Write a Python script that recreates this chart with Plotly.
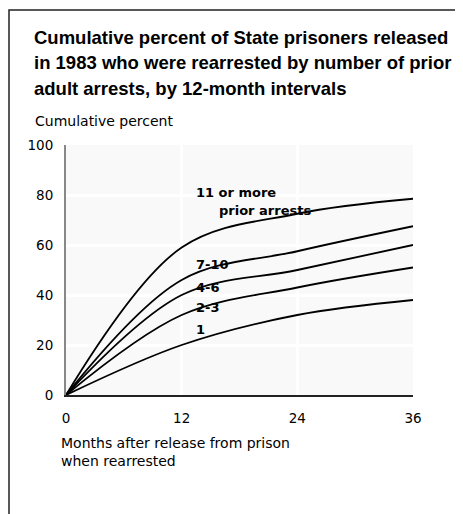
import plotly.graph_objects as go

months = [0, 12, 24, 36]
series_names = ["1", "2-3", "4-6", "7-10", "11 or more"]
s_1 = [0, 20, 32, 38]
s_2_3 = [0, 32, 43, 51]
s_4_6 = [0, 40, 50, 60]
s_7_10 = [0, 46, 57.5, 67.5]
s_11_plus = [0, 59, 72.5, 78.5]
x_ticks = [0, 12, 24, 36]
y_ticks = [0, 20, 40, 60, 80, 100]

OFF = 8  # page body margin
W, H = 463 - OFF, 514 - OFF
L, R, T, B = 66 - OFF, 463 - 413, 145 - OFF, 514 - 395
pw, ph = W - L - R, H - T - B


def px_x(sx):
    return (sx - OFF - L) / pw


def px_y(sy):
    return (H - B - (sy - OFF)) / ph


fig = go.Figure()
for vals in [s_1, s_2_3, s_4_6, s_7_10, s_11_plus]:
    fig.add_trace(go.Scatter(x=months, y=vals, mode="lines",
                             line=dict(color="black", width=1.8, shape="spline", smoothing=1.0),
                             hoverinfo="skip", showlegend=False))

lab_font = dict(family="DejaVu Sans", size=13, color="black")
labels = [
    ("<b>11 or more</b>", 194, 192),
    ("<b>prior arrests</b>", 217, 210),
    ("<b>7-10</b>", 194, 264),
    ("<b>4-6</b>", 194, 287),
    ("<b>2-3</b>", 194, 307),
    ("<b>1</b>", 194, 329),
]
annots = []
for txt, xp, yp in labels:
    annots.append(dict(text=txt, xref="paper", yref="paper", x=px_x(xp), y=px_y(yp),
                       xanchor="left", yanchor="middle", showarrow=False, font=lab_font))

title_lines = [
    ("Cumulative percent of State prisoners released", 37),
    ("in 1983 who were rearrested by number of prior", 63),
    ("adult arrests, by 12-month intervals", 88),
]
for txt, yp in title_lines:
    annots.append(dict(text="<b>" + txt + "</b>", xref="paper", yref="paper",
                       x=px_x(32), y=px_y(yp), xanchor="left", yanchor="middle",
                       showarrow=False, font=dict(family="Liberation Sans", size=18.5, color="black")))

annots.append(dict(text="Cumulative percent", xref="paper", yref="paper",
                   x=px_x(33), y=px_y(121), xanchor="left", yanchor="middle",
                   showarrow=False, font=dict(family="DejaVu Sans", size=14, color="black")))
annots.append(dict(text="Months after release from prison<br>when rearrested", xref="paper", yref="paper",
                   x=px_x(59), y=px_y(433), xanchor="left", yanchor="top", align="left",
                   showarrow=False, font=dict(family="DejaVu Sans", size=14, color="black")))

fig.update_layout(
    width=W, height=H,
    margin=dict(l=L, r=R, t=T, b=B),
    paper_bgcolor="white",
    plot_bgcolor="#f9f9f9",
    annotations=annots,
    shapes=[dict(type="rect", xref="paper", yref="paper",
                 x0=px_x(9), y0=px_y(540), x1=px_x(490), y1=px_y(10),
                 line=dict(color="#222222", width=1.5), layer="above")],
)
fig.update_xaxes(range=[0, 36], tickvals=x_ticks, showgrid=True, gridcolor="white", gridwidth=3,
                 zeroline=False, showline=True, linecolor="#222222", linewidth=1.5,
                 ticks="outside", ticklen=10, tickcolor="rgba(0,0,0,0)",
                 tickfont=dict(family="DejaVu Sans", size=13.5, color="black"), fixedrange=True)
fig.update_yaxes(range=[0, 100], tickvals=y_ticks, showgrid=True, gridcolor="white", gridwidth=3,
                 zeroline=False, showline=True, linecolor="#888888", linewidth=2,
                 ticks="outside", ticklen=8, tickcolor="rgba(0,0,0,0)",
                 tickfont=dict(family="DejaVu Sans", size=13.5, color="black"), fixedrange=True)

fig.write_html("out.html")
